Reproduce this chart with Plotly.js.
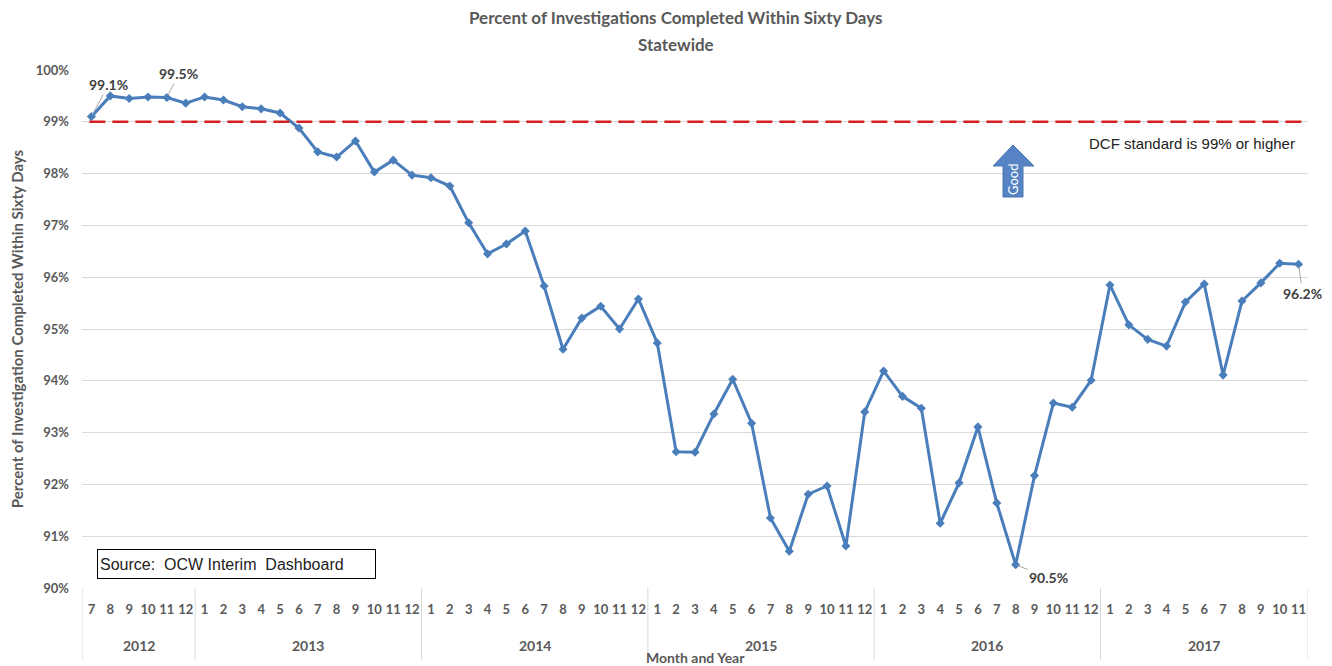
<!DOCTYPE html>
<html>
<head>
<meta charset="utf-8">
<script src="https://cdn.plot.ly/plotly-3.0.1.min.js"></script>
<style>html,body{margin:0;padding:0;background:#fff}#chart{width:1332px;height:666px}</style>
</head>
<body>
<div id="chart"></div>
<script>
const yearNames = ["2012","2013","2014","2015","2016","2017"];
const monthsPerYear = [
  ["7","8","9","10","11","12"],
  ["1","2","3","4","5","6","7","8","9","10","11","12"],
  ["1","2","3","4","5","6","7","8","9","10","11","12"],
  ["1","2","3","4","5","6","7","8","9","10","11","12"],
  ["1","2","3","4","5","6","7","8","9","10","11","12"],
  ["1","2","3","4","5","6","7","8","9","10","11"]];
const pctCompleted = [99.1,99.5,99.45,99.48,99.47,99.36,
  99.48,99.42,99.29,99.25,99.17,98.88,98.42,98.32,98.63,98.03,98.26,97.97,
  97.92,97.76,97.05,96.45,96.64,96.89,95.83,94.61,95.21,95.44,95.0,95.58,
  94.73,92.63,92.62,93.36,94.03,93.18,91.35,90.71,91.81,91.97,90.81,93.40,
  94.19,93.7,93.47,91.25,92.03,93.11,91.64,90.45,92.17,93.57,93.49,94.01,
  95.85,95.08,94.80,94.67,95.52,95.87,94.11,95.54,95.89,96.27,96.25];
const standard = 99;
const yTicks = [90,91,92,93,94,95,96,97,98,99,100];
const labelIdx = [0, 4, 49, 64];
const labelText = ["99.1%", "99.5%", "90.5%", "96.2%"];

const W = 1332, H = 666, L = 82, R = 24, T = 70, B = 78;
const PW = W - L - R, PH = H - T - B;
const px = v => (v - L) / PW;
const py = v => (H - B - v) / PH;
const font = "Lato, Calibri, 'Liberation Sans', Arial, sans-serif";
const lblColor = "#595959";

const monthLabels = [].concat(...monthsPerYear);
const xIdx = monthLabels.map((m, i) => i);
const N = monthLabels.length;
const yearStart = [];
let acc = 0;
monthsPerYear.forEach(a => { yearStart.push(acc); acc += a.length; });

const trace = {
  type: "scatter", mode: "lines+markers",
  x: xIdx, y: pctCompleted,
  line: {color: "#4a7ebb", width: 3},
  marker: {symbol: "diamond", size: 7, color: "#4a7ebb"},
  hoverinfo: "y"
};

const offs = [[17, -32], [12, -24], [33, 13], [4, 29]];
const annotations = labelIdx.map((idx, k) => ({
  xref: "x", yref: "y", x: idx, y: pctCompleted[idx],
  text: "<b>" + labelText[k] + "</b>", showarrow: true, arrowhead: 0, arrowwidth: 1,
  arrowcolor: "#a6a6a6", ax: offs[k][0], ay: offs[k][1], standoff: 2,
  font: {family: font, size: 14, color: "#404040"}
}));
yearNames.forEach((yr, k) => {
  const s = yearStart[k], e = s + monthsPerYear[k].length - 1;
  annotations.push({
    xref: "x", yref: "paper", x: (s + e) / 2, y: py(645), yanchor: "middle",
    text: "<b>" + yr + "</b>", showarrow: false,
    font: {family: font, size: 14, color: lblColor}
  });
});
annotations.push({
  xref: "paper", yref: "paper", x: px(1297), y: py(143), xanchor: "right", yanchor: "middle",
  text: "DCF standard is 99% or higher", showarrow: false,
  font: {family: "Arial, 'Liberation Sans', sans-serif", size: 15, color: "#222"}
});
annotations.push({
  xref: "paper", yref: "paper", x: px(1013), y: py(180), xanchor: "center", yanchor: "middle",
  text: "Good", textangle: -90, showarrow: false,
  font: {family: font, size: 13, color: "#ffffff"}
});
annotations.push({
  xref: "paper", yref: "paper", x: px(97), y: py(564), xanchor: "left", yanchor: "middle",
  text: "Source:  OCW Interim  Dashboard", showarrow: false, align: "left",
  width: 273, height: 24, borderpad: 2, bordercolor: "#000", borderwidth: 1, bgcolor: "#fff",
  font: {family: "Arial, 'Liberation Sans', sans-serif", size: 16, color: "#222"}
});
annotations.push({
  xref: "paper", yref: "paper", x: px(696), y: py(657), xanchor: "center", yanchor: "middle",
  text: "<b>Month and Year</b>", showarrow: false,
  font: {family: font, size: 14, color: lblColor}
});
annotations.push({
  xref: "paper", yref: "paper", x: px(676), y: py(18), xanchor: "center", yanchor: "middle",
  text: "<b>Percent of Investigations Completed Within Sixty Days</b>", showarrow: false,
  font: {family: font, size: 17, color: lblColor}
});
annotations.push({
  xref: "paper", yref: "paper", x: px(676), y: py(44), xanchor: "center", yanchor: "middle",
  text: "<b>Statewide</b>", showarrow: false,
  font: {family: font, size: 17, color: lblColor}
});

const arrowPath = "M " + px(1013) + "," + py(145) + " L " + px(1034) + "," + py(166) +
  " L " + px(1023) + "," + py(166) + " L " + px(1023) + "," + py(197) +
  " L " + px(1003) + "," + py(197) + " L " + px(1003) + "," + py(166) +
  " L " + px(993) + "," + py(166) + " Z";

const shapes = [
  {type: "line", xref: "paper", yref: "y", x0: 0.006, x1: 1, y0: standard, y1: standard,
   line: {color: "#d42020", width: 2.5, dash: "16px,7px"}},
  {type: "path", xref: "paper", yref: "paper", path: arrowPath,
   fillcolor: "#5583c3", line: {color: "#4a76b0", width: 1}}
];
const bounds = yearStart.concat([N]);
bounds.forEach(b => {
  shapes.push({type: "line", xref: "x", yref: "paper", x0: b - 0.5, x1: b - 0.5,
    y0: 0, y1: py(660), line: {color: "#d9d9d9", width: 1}});
});

const layout = {
  width: W, height: H,
  margin: {l: L, r: R, t: T, b: B, autoexpand: false},
  paper_bgcolor: "#fff", plot_bgcolor: "#fff",
  showlegend: false,
  xaxis: {
    range: [-0.5, N - 0.5], tickvals: xIdx, ticktext: monthLabels.map(m => "<b>" + m + "</b>"),
    showgrid: false, zeroline: false, ticks: "", showline: false,
    tickfont: {family: font, size: 13, color: lblColor},
    automargin: false, ticklabelstandoff: 12
  },
  yaxis: {
    range: [90, 100], tickvals: yTicks, ticktext: yTicks.map(v => "<b>" + v + "%</b>"),
    showgrid: true, gridcolor: "#d9d9d9", gridwidth: 1, zeroline: false,
    tickfont: {family: font, size: 13, color: lblColor},
    title: {text: "<b>Percent of Investigation Completed Within Sixty Days</b>",
      font: {family: font, size: 15, color: lblColor}, standoff: 8},
    automargin: false, ticklabelstandoff: 12
  },
  shapes: shapes,
  annotations: annotations
};
Plotly.newPlot("chart", [trace], layout, {displayModeBar: false, staticPlot: true});
</script>
</body>
</html>
